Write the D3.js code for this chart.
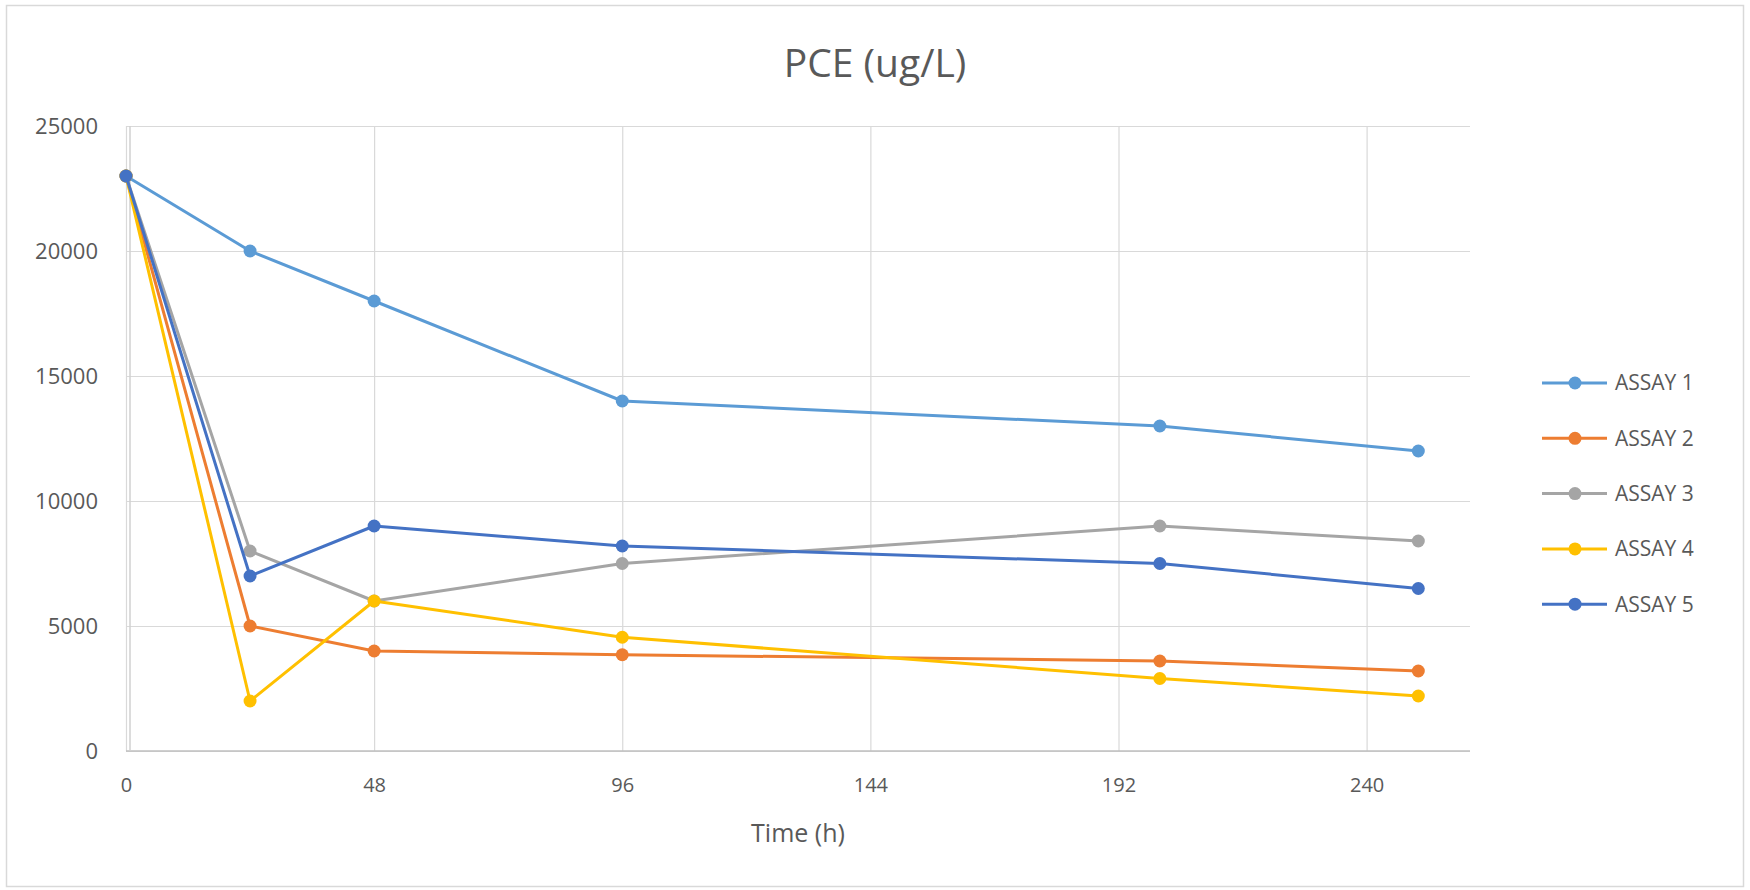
<!DOCTYPE html>
<html>
<head>
<meta charset="utf-8">
<script src="https://cdn.jsdelivr.net/npm/d3@7"></script>
<style>
  body { margin: 0; background: #fff; }
  svg text { font-family: 'Open Sans', sans-serif; fill: #595959; }
</style>
</head>
<body>
<div id="svg-container"></div>
<script>
// Data
const times = [0, 24, 48, 96, 200, 250]
const assay1 = [23000, 20000, 18000, 14000, 13000, 12000]
const assay2 = [23000, 5000, 4000, 3850, 3600, 3200]
const assay3 = [23000, 8000, 6000, 7500, 9000, 8400]
const assay4 = [23000, 2000, 6000, 4550, 2900, 2200]
const assay5 = [23000, 7000, 9000, 8200, 7500, 6500]
const seriesNames = ['ASSAY 1', 'ASSAY 2', 'ASSAY 3', 'ASSAY 4', 'ASSAY 5']
const seriesColors = ['#5B9BD5', '#ED7D31', '#A5A5A5', '#FFC000', '#4472C4']
const xTicks = [0, 48, 96, 144, 192, 240]
const yTicks = [0, 5000, 10000, 15000, 20000, 25000]

;(function () {
  var svgWidth = 1750,
    svgHeight = 890
  var plot = { left: 126, right: 1470, top: 126, bottom: 751 }

  var series = [assay1, assay2, assay3, assay4, assay5].map((vals, i) => ({
    name: seriesNames[i],
    color: seriesColors[i],
    points: vals.map((v, j) => ({ t: times[j], v: v })),
  }))

  var svg = d3
    .select('#svg-container')
    .append('svg')
    .attr('width', svgWidth)
    .attr('height', svgHeight)

  // chart border
  svg
    .append('rect')
    .attr('x', 6.5)
    .attr('y', 5.5)
    .attr('width', 1737)
    .attr('height', 881)
    .attr('fill', '#fff')
    .attr('stroke', '#D9D9D9')
    .attr('stroke-width', 1.5)

  var x = d3.scaleLinear().domain([0, 260]).range([plot.left, plot.right])
  var y = d3.scaleLinear().domain([0, 25000]).range([plot.bottom, plot.top])

  // horizontal grid + y labels
  svg
    .append('g')
    .attr('transform', `translate(${plot.left}, 0)`)
    .call(
      d3
        .axisLeft(y)
        .tickValues(yTicks)
        .tickSize(-(plot.right - plot.left))
        .tickPadding(28)
        .tickFormat(d3.format('d')),
    )
    .call(g => g.select('.domain').remove())
    .call(g => g.selectAll('.tick line').attr('stroke', '#D9D9D9').attr('stroke-width', 1.2))
    .call(g => g.selectAll('.tick text').style('font-size', '22px').attr('fill', '#595959'))

  // vertical grid + x labels
  svg
    .append('g')
    .attr('transform', `translate(0, ${plot.bottom})`)
    .call(
      d3
        .axisBottom(x)
        .tickValues(xTicks)
        .tickSize(-(plot.bottom - plot.top))
        .tickPadding(27),
    )
    .call(g => g.select('.domain').remove())
    .call(g => g.selectAll('.tick line').attr('stroke', '#D9D9D9').attr('stroke-width', 1.2))
    .call(g => g.selectAll('.tick text').style('font-size', '20px').attr('fill', '#595959'))

  // axis lines
  svg
    .append('line')
    .attr('x1', plot.left)
    .attr('x2', plot.right)
    .attr('y1', plot.bottom)
    .attr('y2', plot.bottom)
    .attr('stroke', '#BFBFBF')
    .attr('stroke-width', 1.5)
  svg
    .append('line')
    .attr('x1', plot.left + 4)
    .attr('x2', plot.left + 4)
    .attr('y1', plot.top)
    .attr('y2', plot.bottom)
    .attr('stroke', '#D0D0D0')
    .attr('stroke-width', 1.5)

  var line = d3
    .line()
    .x(d => x(d.t))
    .y(d => y(d.v))

  var gSeries = svg
    .append('g')
    .selectAll('g')
    .data(series)
    .enter()
    .append('g')

  gSeries
    .append('path')
    .attr('fill', 'none')
    .attr('stroke', d => d.color)
    .attr('stroke-width', 3)
    .attr('stroke-linejoin', 'round')
    .attr('d', d => line(d.points))

  gSeries
    .selectAll('circle')
    .data(d => d.points.map(p => ({ ...p, color: d.color })))
    .enter()
    .append('circle')
    .attr('cx', d => x(d.t))
    .attr('cy', d => y(d.v))
    .attr('r', 6.5)
    .attr('fill', d => d.color)

  // title
  svg
    .append('text')
    .attr('x', 875)
    .attr('y', 77)
    .attr('text-anchor', 'middle')
    .style('font-size', '39px')
    .text('PCE (ug/L)')

  svg
    .append('text')
    .attr('x', (plot.left + plot.right) / 2)
    .attr('y', 842)
    .attr('text-anchor', 'middle')
    .style('font-size', '25px')
    .text('Time (h)')

  // legend
  var legend = svg
    .append('g')
    .selectAll('g')
    .data(series)
    .enter()
    .append('g')
    .attr('transform', (d, i) => `translate(1542, ${383 + i * 55.3})`)

  legend
    .append('line')
    .attr('x1', 0)
    .attr('x2', 65)
    .attr('stroke', d => d.color)
    .attr('stroke-width', 3)
  legend
    .append('circle')
    .attr('cx', 33)
    .attr('r', 6.5)
    .attr('fill', d => d.color)
  legend
    .append('text')
    .attr('x', 73)
    .attr('dy', '0.35em')
    .style('font-size', '21px')
    .text(d => d.name)
})()
</script>
</body>
</html>
